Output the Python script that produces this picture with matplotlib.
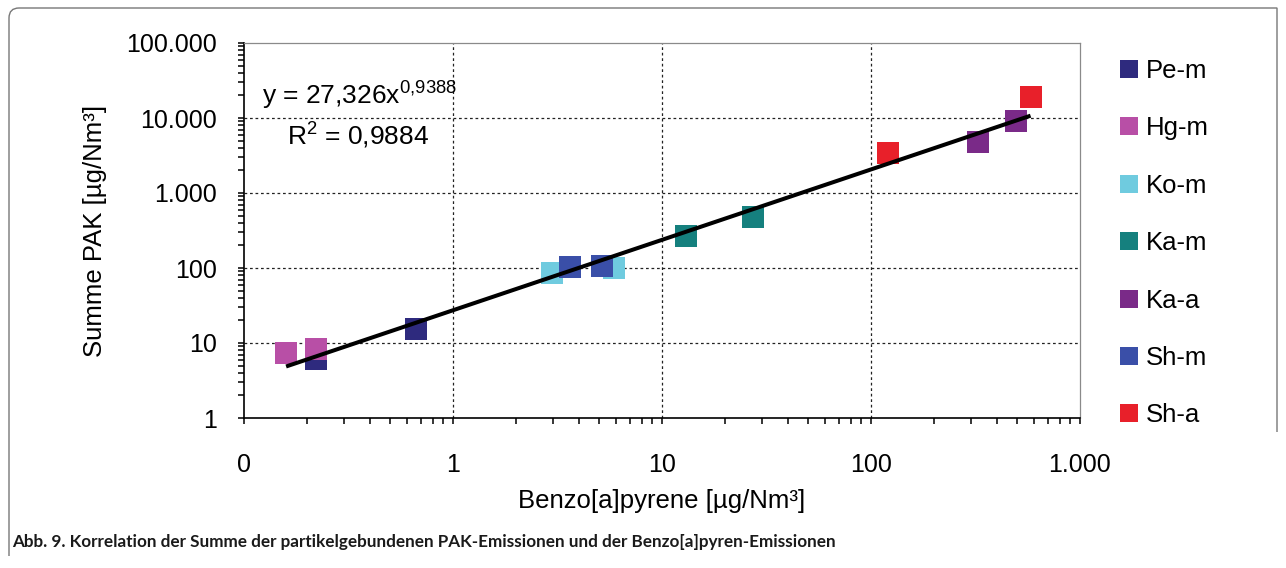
import numpy as np
import matplotlib
matplotlib.use("Agg")
import matplotlib.pyplot as plt
from matplotlib.lines import Line2D
from matplotlib.path import Path
from matplotlib.patches import PathPatch
from matplotlib.ticker import FixedLocator, FixedFormatter, LogLocator, NullFormatter

plt.rcParams['font.family'] = ['Liberation Sans', 'DejaVu Sans']
plt.rcParams['mathtext.fontset'] = 'custom'
plt.rcParams['mathtext.rm'] = 'Liberation Sans'
plt.rcParams['mathtext.it'] = 'Liberation Sans:italic'

# data (x = Benzo[a]pyrene, y = Summe PAK, both in ug/Nm3)
series_names = ["Pe-m", "Hg-m", "Ko-m", "Ka-m", "Ka-a", "Sh-m", "Sh-a"]
series_colors = ["#2E2A7E", "#B84FA6", "#6FCBDF", "#15807E", "#7A2A88", "#3A4FA8", "#E8202A"]

pe_m_x = [0.221, 0.665]
pe_m_y = [6.1, 15.4]
hg_m_x = [0.159, 0.221]
hg_m_y = [7.4, 8.3]
ko_m_x = [2.97, 5.89]
ko_m_y = [85, 101]
ka_m_x = [13.0, 27.2]
ka_m_y = [267, 483]
ka_a_x = [326, 494]
ka_a_y = [4740, 9120]
sh_m_x = [3.63, 5.18]
sh_m_y = [104, 106]
sh_a_x = [120, 580]
sh_a_y = [3450, 19200]

# power trend line from the chart: y = 27,326 x^0,9388
fit_a = 27.326
fit_b = 0.9388

x_ticks = [0.1, 1, 10, 100, 1000]
x_ticklabels = ["0", "1", "10", "100", "1.000"]
y_ticks = [1, 10, 100, 1000, 10000, 100000]
y_ticklabels = ["1", "10", "100", "1.000", "10.000", "100.000"]

series_x = [pe_m_x, hg_m_x, ko_m_x, ka_m_x, ka_a_x, sh_m_x, sh_a_x]
series_y = [pe_m_y, hg_m_y, ko_m_y, ka_m_y, ka_a_y, sh_m_y, sh_a_y]

W, H = 1286, 568
fig = plt.figure(figsize=(W / 100, H / 100), dpi=100)
ax = fig.add_axes([244 / W, 1 - 418 / H, (1080 - 244) / W, (418 - 43) / H])
ax.set_xscale("log")
ax.set_yscale("log")
ax.set_xlim(0.1, 1000)
ax.set_ylim(1, 100000)

for xs, ys, col, name in zip(series_x, series_y, series_colors, series_names):
    ax.plot(xs, ys, linestyle="none", marker="s", markersize=15.8,
            markerfacecolor=col, markeredgecolor=col, markeredgewidth=0, zorder=3, label=name)

all_x = np.concatenate([np.array(v, dtype=float) for v in series_x])
xfit = np.array([all_x.min(), all_x.max()])
ax.plot(xfit, fit_a * xfit ** fit_b, color="black", lw=2.9, zorder=4, solid_capstyle="butt")

# ticks
ax.xaxis.set_major_locator(FixedLocator(x_ticks))
ax.xaxis.set_major_formatter(FixedFormatter(x_ticklabels))
ax.xaxis.set_minor_locator(LogLocator(base=10, subs=np.arange(2, 10)))
ax.xaxis.set_minor_formatter(NullFormatter())
ax.yaxis.set_major_locator(FixedLocator(y_ticks))
ax.yaxis.set_major_formatter(FixedFormatter(y_ticklabels))
ax.yaxis.set_minor_locator(LogLocator(base=10, subs=np.arange(2, 10)))
ax.yaxis.set_minor_formatter(NullFormatter())
ax.tick_params(axis="both", which="both", direction="out", length=4.5, width=1.1, color="black")
ax.tick_params(axis="x", which="major", labelsize=18, pad=21)
ax.tick_params(axis="y", which="major", labelsize=18, pad=15)
ax.tick_params(top=False, right=False)

# grid (interior only)
ax.grid(True, which="major", color="#222222", linestyle=(0, (2.2, 2.2)), linewidth=0.9)
ax.xaxis.get_major_ticks()[0].gridline.set_visible(False)
ax.xaxis.get_major_ticks()[-1].gridline.set_visible(False)
ax.yaxis.get_major_ticks()[0].gridline.set_visible(False)
ax.yaxis.get_major_ticks()[-1].gridline.set_visible(False)

for s in ["left", "bottom"]:
    ax.spines[s].set_color("black")
    ax.spines[s].set_linewidth(1.2)
for s in ["top", "right"]:
    ax.spines[s].set_color("#8a8a8a")
    ax.spines[s].set_linewidth(0.9)

ax.set_xlabel("Benzo[a]pyrene [µg/Nm³]", fontsize=18.5, labelpad=8)
ax.set_ylabel("Summe PAK [µg/Nm³]", fontsize=18.5, labelpad=14)

ax.text(262 / W, 1 - 105 / H, r"y = 27,326x$^{\mathrm{0{,}9388}}$", transform=fig.transFigure,
        fontsize=19, ha="left", va="baseline")
ax.text(287 / W, 1 - 145 / H, r"R$^{\mathrm{2}}$ = 0,9884", transform=fig.transFigure,
        fontsize=19, ha="left", va="baseline")

handles = [Line2D([], [], linestyle="none", marker="s", markersize=13,
                  markerfacecolor=c, markeredgewidth=0) for c in series_colors]
fig.legend(handles, series_names, loc="upper left", bbox_to_anchor=(1119 / W, 1 - 59 / H),
           frameon=False, fontsize=18.5, handlelength=0.75, handletextpad=0.3,
           labelspacing=1.3, borderpad=0, borderaxespad=0)

# outer frame: rounded top-left corner, right side ends near the plot bottom
r = 10
fx0, fx1, fy0, fy_left, fy_right = 9, 1277, 8, 556, 432
verts = [(fx0, fy_left), (fx0, fy0 + r), (fx0, fy0), (fx0 + r, fy0), (fx1, fy0), (fx1, fy_right)]
codes = [Path.MOVETO, Path.LINETO, Path.CURVE3, Path.CURVE3, Path.LINETO, Path.LINETO]
verts = [(vx / W, 1 - vy / H) for vx, vy in verts]
fig.patches.append(PathPatch(Path(verts, codes), transform=fig.transFigure, fill=False,
                             edgecolor="#777777", linewidth=1.0))

fig.text(12 / W, 1 - 547 / H,
         "Abb. 9. Korrelation der Summe der partikelgebundenen PAK-Emissionen und der Benzo[a]pyren-Emissionen",
         fontsize=12.3, fontweight="bold", family=["Lato", "DejaVu Sans"],
         ha="left", va="baseline", color="#1a1a1a")

fig.savefig("out.png", dpi=100)
